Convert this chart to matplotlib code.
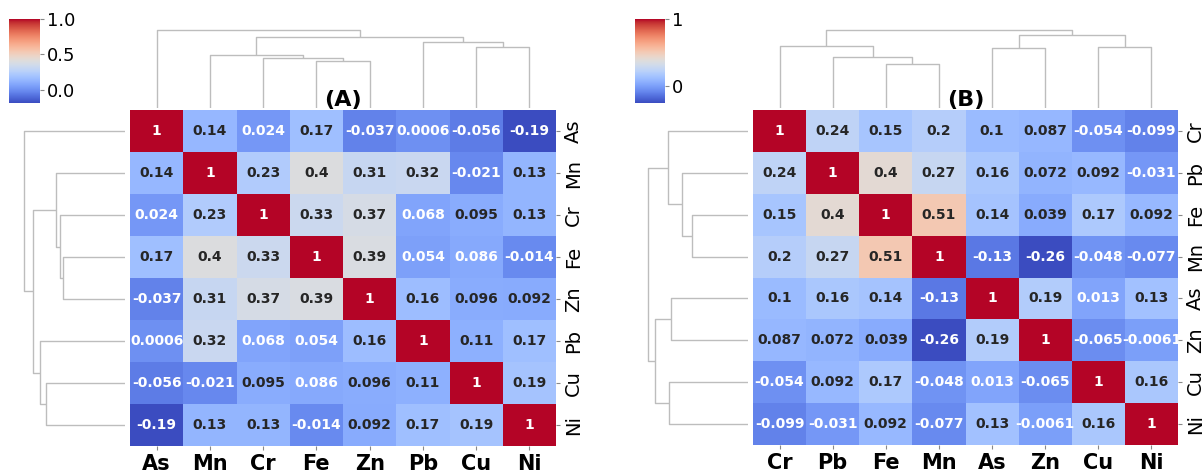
import numpy as np
import pandas as pd
import matplotlib
matplotlib.use("Agg")
import matplotlib.pyplot as plt
import seaborn as sns

# ---------------- data ----------------
labels_a = ["As", "Mn", "Cr", "Fe", "Zn", "Pb", "Cu", "Ni"]
corr_a = [
    [1, 0.14, 0.024, 0.17, -0.037, 0.0006, -0.056, -0.19],
    [0.14, 1, 0.23, 0.4, 0.31, 0.32, -0.021, 0.13],
    [0.024, 0.23, 1, 0.33, 0.37, 0.068, 0.095, 0.13],
    [0.17, 0.4, 0.33, 1, 0.39, 0.054, 0.086, -0.014],
    [-0.037, 0.31, 0.37, 0.39, 1, 0.16, 0.096, 0.092],
    [0.0006, 0.32, 0.068, 0.054, 0.16, 1, 0.11, 0.17],
    [-0.056, -0.021, 0.095, 0.086, 0.096, 0.11, 1, 0.19],
    [-0.19, 0.13, 0.13, -0.014, 0.092, 0.17, 0.19, 1],
]
# merges: (child a, child b, height); ids >= 8 refer to earlier merges
merges_a = [
    (3, 4, 0.61),
    (2, 8, 0.64),
    (1, 9, 0.685),
    (6, 7, 0.78),
    (5, 11, 0.845),
    (10, 12, 0.913),
    (0, 13, 1.0),
]
cbar_ticks_a = [0.0, 0.5, 1.0]
cbar_labels_a = ["0.0", "0.5", "1.0"]

labels_b = ["Cr", "Pb", "Fe", "Mn", "As", "Zn", "Cu", "Ni"]
corr_b = [
    [1, 0.24, 0.15, 0.2, 0.1, 0.087, -0.054, -0.099],
    [0.24, 1, 0.4, 0.27, 0.16, 0.072, 0.092, -0.031],
    [0.15, 0.4, 1, 0.51, 0.14, 0.039, 0.17, 0.092],
    [0.2, 0.27, 0.51, 1, -0.13, -0.26, -0.048, -0.077],
    [0.1, 0.16, 0.14, -0.13, 1, 0.19, 0.013, 0.13],
    [0.087, 0.072, 0.039, -0.26, 0.19, 1, -0.065, -0.0061],
    [-0.054, 0.092, 0.17, -0.048, 0.013, -0.065, 1, 0.16],
    [-0.099, -0.031, 0.092, -0.077, 0.13, -0.0061, 0.16, 1],
]
merges_b = [
    (2, 3, 0.5625),
    (1, 8, 0.66),
    (0, 9, 0.80),
    (4, 5, 0.77),
    (6, 7, 0.79),
    (11, 12, 0.9375),
    (10, 13, 1.0),
]
cbar_ticks_b = [0, 1]
cbar_labels_b = ["0", "1"]

# ---------------- layout ----------------
W, H = 1204, 474
fig = plt.figure(figsize=(W / 100, H / 100), dpi=100)


def rect(l, t, r, b):
    return [l / W, 1 - b / H, (r - l) / W, (b - t) / H]


DCOL = "#bdbdbd"


def draw_dendro(ax, merges, n, orient):
    pos = {i: i + 0.5 for i in range(n)}
    hgt = {i: 0.0 for i in range(n)}
    hmax = max(m[2] for m in merges)
    for k, (a, b, h) in enumerate(merges):
        xs = [pos[a], pos[a], pos[b], pos[b]]
        ys = [hgt[a], h, h, hgt[b]]
        if orient == "top":
            ax.plot(xs, ys, color=DCOL, lw=1.0, solid_capstyle="butt")
        else:
            ax.plot(ys, xs, color=DCOL, lw=1.0, solid_capstyle="butt")
        pos[n + k] = (pos[a] + pos[b]) / 2
        hgt[n + k] = h
    if orient == "top":
        ax.set_xlim(0, n)
        ax.set_ylim(0, hmax * 1.05)
    else:
        ax.set_xlim(hmax * 1.05, 0)
        ax.set_ylim(n, 0)
    ax.set_axis_off()


def panel(labels, corr, merges, hm_r, col_r, row_r, cb_r, ticks, tlabels, title):
    n = len(labels)
    ax_col = fig.add_axes(rect(*col_r))
    ax_row = fig.add_axes(rect(*row_r))
    draw_dendro(ax_col, merges, n, "top")
    draw_dendro(ax_row, merges, n, "left")
    cax = fig.add_axes(rect(*cb_r))
    ax = fig.add_axes(rect(*hm_r))
    df = pd.DataFrame(np.array(corr, dtype=float), index=labels, columns=labels)
    sns.heatmap(df, ax=ax, cmap="coolwarm", annot=True,
                annot_kws={"fontsize": 10, "fontweight": "bold"},
                cbar_ax=cax, cbar_kws={"ticks": ticks})
    ax.yaxis.tick_right()
    ax.set_yticklabels(labels, rotation=90, va="center", fontsize=14)
    ax.set_xticklabels(labels, rotation=0, fontsize=15, fontweight="bold")
    ax.tick_params(axis="both", length=3, color="#888888", pad=3)
    ax.set_xlabel("")
    ax.set_ylabel("")
    ax.set_title(title, fontsize=16, fontweight="bold", pad=3)
    cax.set_yticks(ticks)
    cax.set_yticklabels(tlabels, fontsize=13)
    cax.tick_params(length=3, color="#888888", pad=2)
    return ax


panel(labels_a, corr_a, merges_a,
      hm_r=(130, 110, 556, 446),
      col_r=(130, 26.5, 556, 108),
      row_r=(19, 110, 125, 446),
      cb_r=(9, 19, 40, 103),
      ticks=cbar_ticks_a, tlabels=cbar_labels_a, title="(A)")

panel(labels_b, corr_b, merges_b,
      hm_r=(753, 110, 1178, 445),
      col_r=(753, 26.5, 1178, 108),
      row_r=(643.5, 110, 748, 445),
      cb_r=(635, 19, 665, 103),
      ticks=cbar_ticks_b, tlabels=cbar_labels_b, title="(B)")

fig.savefig("out.png", dpi=100)
